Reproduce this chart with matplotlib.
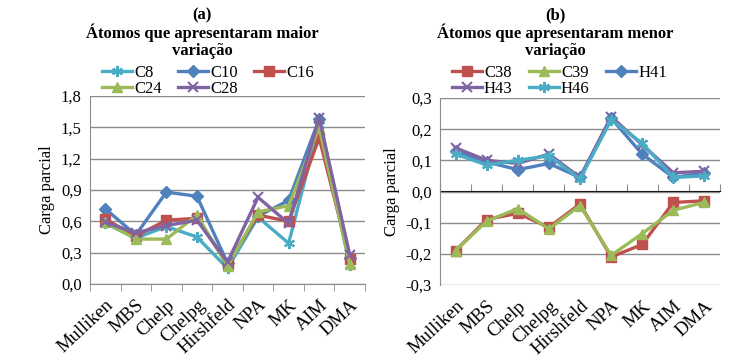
import matplotlib
matplotlib.use("Agg")
import matplotlib.pyplot as plt
import numpy as np

plt.rcParams['font.family'] = ['Liberation Serif', 'DejaVu Serif']

methods = ["Mulliken", "MBS", "Chelp", "Chelpg", "Hirshfeld", "NPA", "MK", "AIM", "DMA"]

# Panel (a)
C8 = [0.58, 0.44, 0.55, 0.45, 0.15, 0.64, 0.39, 1.52, 0.18]
C10 = [0.72, 0.47, 0.88, 0.84, 0.20, 0.65, 0.80, 1.58, 0.25]
C16 = [0.62, 0.46, 0.61, 0.63, 0.19, 0.66, 0.60, 1.40, 0.24]
C24 = [0.59, 0.43, 0.43, 0.66, 0.17, 0.69, 0.75, 1.50, 0.19]
C28 = [0.59, 0.49, 0.56, 0.61, 0.21, 0.83, 0.58, 1.59, 0.28]

# Panel (b)
C38 = [-0.19, -0.09, -0.07, -0.115, -0.04, -0.21, -0.17, -0.035, -0.03]
C39 = [-0.19, -0.095, -0.055, -0.12, -0.045, -0.205, -0.135, -0.06, -0.035]
H41 = [0.13, 0.095, 0.07, 0.09, 0.045, 0.235, 0.12, 0.045, 0.06]
H43 = [0.14, 0.10, 0.09, 0.12, 0.045, 0.24, 0.15, 0.06, 0.065]
H46 = [0.12, 0.085, 0.10, 0.115, 0.04, 0.23, 0.155, 0.045, 0.05]

yticks_a = [0.0, 0.3, 0.6, 0.9, 1.2, 1.5, 1.8]
yticks_b = [-0.3, -0.2, -0.1, 0.0, 0.1, 0.2, 0.3]

BLUE = "#4F81BD"; RED = "#C0504D"; GREEN = "#9BBB59"; PURPLE = "#8064A2"; CYAN = "#4BACC6"
GRID = "#8C8C8C"
AST = (6, 2, 0)

fig = plt.figure(figsize=(7.37, 3.58), dpi=100)
ax1 = fig.add_axes([90/737, 1-284/358, 275/737, 188/358])
ax2 = fig.add_axes([440/737, 1-285/358, 280/737, 187/358])

x = np.arange(len(methods))
lw = 2.4

h = {}
h['C8'], = ax1.plot(x, C8, color=CYAN, marker=AST, markersize=8, mew=1.5, lw=lw, label="C8")
h['C10'], = ax1.plot(x, C10, color=BLUE, marker="D", markersize=6, lw=lw, label="C10")
h['C16'], = ax1.plot(x, C16, color=RED, marker="s", markersize=6.5, lw=lw, label="C16")
h['C24'], = ax1.plot(x, C24, color=GREEN, marker="^", markersize=7, lw=lw, label="C24")
h['C28'], = ax1.plot(x, C28, color=PURPLE, marker="x", markersize=7, mew=1.5, lw=lw, label="C28")

h['C38'], = ax2.plot(x, C38, color=RED, marker="s", markersize=6.5, lw=lw, label="C38")
h['C39'], = ax2.plot(x, C39, color=GREEN, marker="^", markersize=7, lw=lw, label="C39")
h['H41'], = ax2.plot(x, H41, color=BLUE, marker="D", markersize=6, lw=lw, label="H41")
h['H43'], = ax2.plot(x, H43, color=PURPLE, marker="x", markersize=7, mew=1.5, lw=lw, label="H43")
h['H46'], = ax2.plot(x, H46, color=CYAN, marker=AST, markersize=8, mew=1.5, lw=lw, label="H46")

def fmt(v):
    return f"{v:.1f}".replace(".", ",")

for ax, yt in ((ax1, yticks_a), (ax2, yticks_b)):
    ax.set_xlim(-0.5, len(methods) - 0.5)
    ax.set_ylim(yt[0], yt[-1])
    ax.set_yticks(yt)
    ax.set_yticklabels([fmt(v) for v in yt], fontsize=12)
    ax.yaxis.grid(True, color=GRID, lw=1)
    ax.set_axisbelow(True)
    ax.tick_params(axis='y', length=0, pad=6)
    for s in ("top", "right"):
        ax.spines[s].set_visible(False)
    ax.spines['left'].set_color(GRID)
    ax.set_ylabel("Carga parcial", fontsize=12, labelpad=4)
    ax.set_xticks(x)
    ax.set_xticklabels(methods, rotation=43, ha='right', rotation_mode='anchor', fontsize=13.5)
    ax.tick_params(axis='x', which='major', length=0, pad=9)

# left panel: axis at 0 with boundary ticks
ax1.spines['bottom'].set_color(GRID)
ax1.set_xticks(np.arange(-0.5, len(methods)), minor=True)
ax1.tick_params(axis='x', which='minor', length=5, color=GRID, direction='out')

# right panel: axis line at zero with boundary ticks, labels at bottom
ax2.spines['bottom'].set_visible(False)
sec = ax2.secondary_xaxis(0.5)
sec.set_xticks(np.arange(-0.5, len(methods)))
sec.set_xticklabels([])
sec.tick_params(length=5, color=GRID, direction='out')
sec.spines['bottom'].set_color(GRID)

tfs = 12
fig.text(202/737, 1-15/358, "(a)", ha='center', va='center', fontsize=tfs, fontweight='bold')
fig.text(202/737, 1-33/358, "Átomos que apresentaram maior", ha='center', va='center', fontsize=tfs, fontweight='bold')
fig.text(202/737, 1-51/358, "variação", ha='center', va='center', fontsize=tfs, fontweight='bold')
fig.text(555/737, 1-15/358, "(b)", ha='center', va='center', fontsize=tfs, fontweight='bold')
fig.text(555/737, 1-33/358, "Átomos que apresentaram menor", ha='center', va='center', fontsize=tfs, fontweight='bold')
fig.text(555/737, 1-51/358, "variação", ha='center', va='center', fontsize=tfs, fontweight='bold')

leg_kw = dict(ncol=3, frameon=False, fontsize=12, handlelength=1.8, handletextpad=0.1,
              columnspacing=1.0, labelspacing=0.0, borderpad=0, loc='upper left')
ha1 = [h['C8'], h['C24'], h['C10'], h['C28'], h['C16']]
ha2 = [h['C38'], h['H43'], h['C39'], h['H46'], h['H41']]
ax1.legend(ha1, [a.get_label() for a in ha1], bbox_to_anchor=(94/737, 1-57/358), bbox_transform=fig.transFigure, **leg_kw)
ax2.legend(ha2, [a.get_label() for a in ha2], bbox_to_anchor=(444/737, 1-57/358), bbox_transform=fig.transFigure, **leg_kw)

fig.savefig("out.png", dpi=100)
